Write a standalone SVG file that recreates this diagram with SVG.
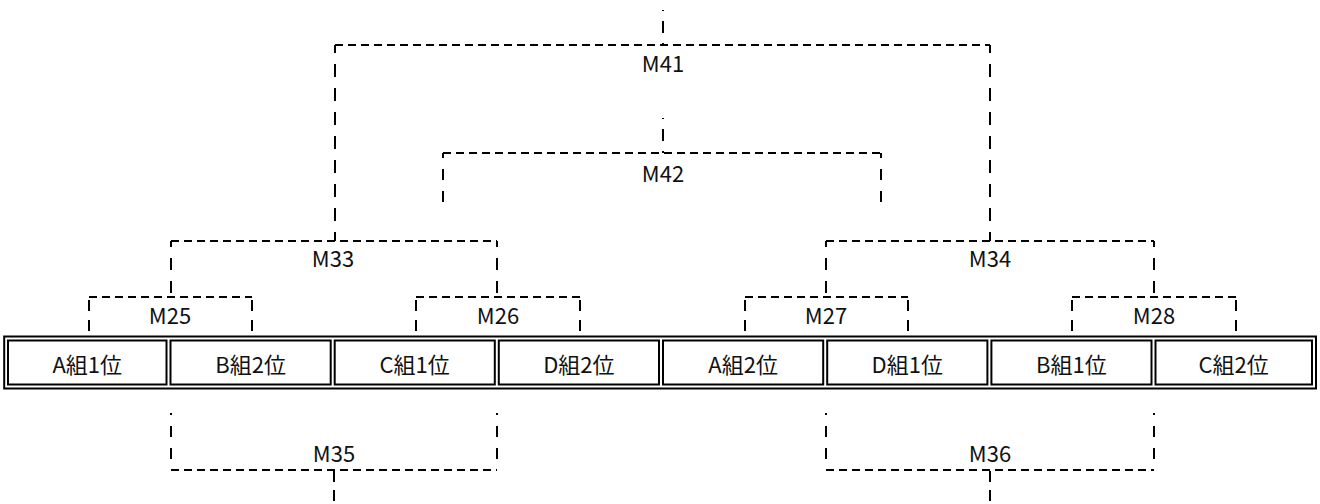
<svg xmlns="http://www.w3.org/2000/svg" width="1320" height="504" viewBox="0 0 1320 504">
<style>
.d{fill:none;stroke:#000;stroke-width:2;stroke-dasharray:8 5}
.v{fill:none;stroke:#000;stroke-width:2;stroke-dasharray:12 11}
.s{fill:none;stroke:#000;stroke-width:2;stroke-dasharray:12 10;stroke-dashoffset:11}
.c{fill:#fff;stroke:#000;stroke-width:2}
text{font-family:"Noto Sans CJK JP","Noto Sans",sans-serif;font-size:22px;fill:#111;text-anchor:middle;dominant-baseline:central}
</style>
<rect width="1320" height="504" fill="#fff"/>
<g id="connectors">
<path class="s" d="M663 10V45"/>
<path class="d" d="M335 45H990"/>
<path class="v" d="M335 45V241M990 45V241" style="stroke-dasharray:13 11;stroke-dashoffset:5"/>
<path class="s" d="M663 118V153"/>
<path class="d" d="M443 153H881"/>
<path class="v" d="M443 153V204M881 153V204" style="stroke-dasharray:11 11;stroke-dashoffset:6"/>
<path class="d" d="M171 241H497M826 241H1154"/>
<path class="v" d="M171 241V297M497 241V297M826 241V297M1154 241V297" style="stroke-dasharray:12 11;stroke-dashoffset:6"/>
<path class="d" d="M89 297H252M416 297H580M745 297H908M1072 297H1236"/>
<path class="v" d="M89 300V332M252 300V332M416 300V332M580 300V332M745 300V332M908 300V332M1072 300V332M1236 300V332" style="stroke-dasharray:11 9"/>
<path class="v" d="M171 413V470M497 413V470M826 413V470M1154 413V470" style="stroke-dasharray:11 11;stroke-dashoffset:9"/>
<path class="d" d="M171 470H497M826 470H1154"/>
<path class="v" d="M334 471V504M990 471V504" style="stroke-dasharray:11 8"/>
</g>
<g id="M41"><text x="663" y="62">M41</text></g>
<g id="M42"><text x="663" y="172">M42</text></g>
<g id="M33"><text x="333" y="257">M33</text></g>
<g id="M34"><text x="990" y="257">M34</text></g>
<g id="M25"><text x="170" y="314">M25</text></g>
<g id="M26"><text x="498" y="314">M26</text></g>
<g id="M27"><text x="826" y="314">M27</text></g>
<g id="M28"><text x="1154" y="314">M28</text></g>
<g id="M35"><text x="334" y="452">M35</text></g>
<g id="M36"><text x="990" y="452">M36</text></g>
<g id="table">
<rect x="4.2" y="336.5" width="1311.8" height="52" fill="#fff" stroke="#000" stroke-width="2"/>
<g id="c1"><rect class="c" x="8" y="340.5" width="158.5" height="44"/><text x="87.2" y="363">A組1位</text></g>
<g id="c2"><rect class="c" x="170.5" y="340.5" width="160.2" height="44"/><text x="250.6" y="363">B組2位</text></g>
<g id="c3"><rect class="c" x="334.7" y="340.5" width="160.1" height="44"/><text x="414.7" y="363">C組1位</text></g>
<g id="c4"><rect class="c" x="498.8" y="340.5" width="160.2" height="44"/><text x="578.9" y="363">D組2位</text></g>
<g id="c5"><rect class="c" x="663" y="340.5" width="160.2" height="44"/><text x="743.1" y="363">A組2位</text></g>
<g id="c6"><rect class="c" x="827.2" y="340.5" width="160.2" height="44"/><text x="907.3" y="363">D組1位</text></g>
<g id="c7"><rect class="c" x="991.4" y="340.5" width="160.1" height="44"/><text x="1071.4" y="363">B組1位</text></g>
<g id="c8"><rect class="c" x="1155.5" y="340.5" width="156.5" height="44"/><text x="1233.7" y="363">C組2位</text></g>
</g>
</svg>
